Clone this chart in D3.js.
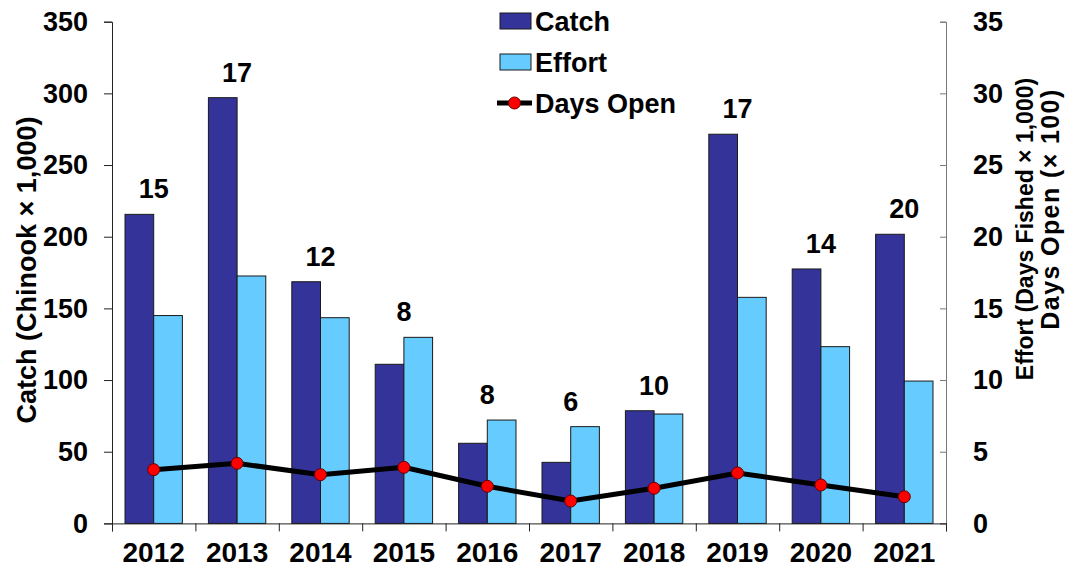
<!DOCTYPE html>
<html>
<head>
<meta charset="utf-8">
<script src="https://cdn.jsdelivr.net/npm/d3@7"></script>
<style>
  body { margin: 0; background: #fff; }
  text { font-family: "Liberation Sans", Arial, sans-serif; font-weight: bold; fill: #000; }
</style>
</head>
<body>
<div id="chart"></div>
<script>
const years = ["2012", "2013", "2014", "2015", "2016", "2017", "2018", "2019", "2020", "2021"];
const catchVals = [215.6, 297, 168.6, 111, 55.9, 42.6, 78.6, 271.5, 177.5, 201.7];
const effortVals = [14.5, 17.26, 14.35, 12.98, 7.21, 6.75, 7.63, 15.77, 12.33, 9.93];
const daysOpen = [3.75, 4.19, 3.40, 3.91, 2.59, 1.56, 2.45, 3.52, 2.68, 1.86];
const openings = [15, 17, 12, 8, 8, 6, 10, 17, 14, 20];
const leftTicks = [0, 50, 100, 150, 200, 250, 300, 350];
const rightTicks = [0, 5, 10, 15, 20, 25, 30, 35];

const width = 1075;
const height = 569;
const margin = {top: 21.7, right: 129, bottom: 45.6, left: 112};
const innerW = width - margin.left - margin.right;
const innerH = height - margin.top - margin.bottom;

const svg = d3.select("#chart")
              .append("svg")
              .attr("width", width)
              .attr("height", height);

const g = svg.append("g").attr("transform", `translate(${margin.left},${margin.top})`);

const x = d3.scaleBand().domain(years).range([0, innerW]).paddingInner(0.312).paddingOuter(0.156);
const xSub = d3.scaleBand().domain(["catch", "effort"]).range([0, x.bandwidth()]);
const xEdge = d3.scaleLinear().domain([0, years.length]).range([0, innerW]);
const yL = d3.scaleLinear().domain([0, 350]).range([innerH, 0]);
const yR = d3.scaleLinear().domain([0, 35]).range([innerH, 0]);

// bars
const grp = g.selectAll(".yr")
  .data(years)
  .enter()
  .append("g")
  .attr("transform", d => `translate(${x(d)},0)`);

grp.append("rect")
   .attr("x", xSub("catch"))
   .attr("width", xSub.bandwidth())
   .attr("y", (d, i) => yL(catchVals[i]))
   .attr("height", (d, i) => innerH - yL(catchVals[i]))
   .attr("fill", "#333399")
   .attr("stroke", "#1a1a1a")
   .attr("stroke-width", 1);

grp.append("rect")
   .attr("x", xSub("effort"))
   .attr("width", xSub.bandwidth())
   .attr("y", (d, i) => yR(effortVals[i]))
   .attr("height", (d, i) => innerH - yR(effortVals[i]))
   .attr("fill", "#66CCFF")
   .attr("stroke", "#1a1a1a")
   .attr("stroke-width", 1);

// openings labels above bars
grp.append("text")
   .attr("x", x.bandwidth() / 2)
   .attr("y", (d, i) => Math.min(yL(catchVals[i]), yR(effortVals[i])) - 16)
   .attr("text-anchor", "middle")
   .style("font-size", "27px")
   .text((d, i) => openings[i]);

// axes
const axL = g.append("g")
  .call(d3.axisLeft(yL).tickValues(leftTicks).tickSize(8).tickPadding(16));
axL.selectAll("text").style("font-size", "27px");
axL.select(".domain").attr("stroke", "#222");
axL.selectAll(".tick line").attr("stroke", "#222");

const axR = g.append("g")
  .attr("transform", `translate(${innerW},0)`)
  .call(d3.axisRight(yR).tickValues(rightTicks).tickSize(-6).tickPadding(27));
axR.selectAll("text").style("font-size", "27px");
axR.select(".domain").attr("stroke", "#777");
axR.selectAll(".tick line").attr("stroke", "#777");

const axB = g.append("g")
  .attr("transform", `translate(0,${innerH})`)
  .call(d3.axisBottom(xEdge).tickValues(d3.range(years.length + 1)).tickSize(8).tickFormat(""));
axB.select(".domain").attr("stroke", "#222");
axB.selectAll(".tick line").attr("stroke", "#222");

g.append("g")
 .selectAll("text")
 .data(years)
 .enter()
 .append("text")
 .attr("x", d => x(d) + x.bandwidth() / 2)
 .attr("y", innerH + 39)
 .attr("text-anchor", "middle")
 .style("font-size", "28px")
 .text(d => d);

// days open line
const line = d3.line()
  .x((d, i) => x(years[i]) + x.bandwidth() / 2)
  .y(d => yR(d));

g.append("path")
 .datum(daysOpen)
 .attr("d", line)
 .attr("fill", "none")
 .attr("stroke", "#000")
 .attr("stroke-width", 5);

g.selectAll(".dot")
 .data(daysOpen)
 .enter()
 .append("circle")
 .attr("cx", (d, i) => x(years[i]) + x.bandwidth() / 2)
 .attr("cy", d => yR(d))
 .attr("r", 6)
 .attr("fill", "#FF0000")
 .attr("stroke", "#600")
 .attr("stroke-width", 1);

// axis titles
svg.append("text")
   .attr("transform", "translate(36,270) rotate(-90)")
   .attr("text-anchor", "middle")
   .style("font-size", "27px")
   .text("Catch (Chinook × 1,000)");

svg.append("text")
   .attr("transform", "translate(1033,229) rotate(-90)")
   .attr("text-anchor", "middle")
   .style("font-size", "23px")
   .text("Effort (Days Fished × 1,000)");

svg.append("text")
   .attr("transform", "translate(1059,209) rotate(-90)")
   .attr("text-anchor", "middle")
   .style("font-size", "25px")
   .style("letter-spacing", "1.4px")
   .text("Days Open (× 100)");

// legend
const legend = svg.append("g").attr("transform", "translate(500,0)");
const legendItems = [
  {name: "Catch", type: "bar", color: "#333399"},
  {name: "Effort", type: "bar", color: "#66CCFF"},
  {name: "Days Open", type: "line", color: "#FF0000"}
];
legendItems.forEach((d, i) => {
  const cy = 21 + i * 41;
  const item = legend.append("g");
  if (d.type === "bar") {
    item.append("rect").attr("x", 0).attr("y", cy - 8).attr("width", 31).attr("height", 16)
        .attr("fill", d.color).attr("stroke", "#1a1a1a").attr("stroke-width", 1);
  } else {
    item.append("line").attr("x1", -3).attr("x2", 32).attr("y1", cy).attr("y2", cy)
        .attr("stroke", "#000").attr("stroke-width", 5);
    item.append("circle").attr("cx", 14.5).attr("cy", cy).attr("r", 6)
        .attr("fill", d.color).attr("stroke", "#600").attr("stroke-width", 1);
  }
  item.append("text").attr("x", 35).attr("y", cy + 9.5)
      .style("font-size", "27px").text(d.name);
});
</script>
</body>
</html>
